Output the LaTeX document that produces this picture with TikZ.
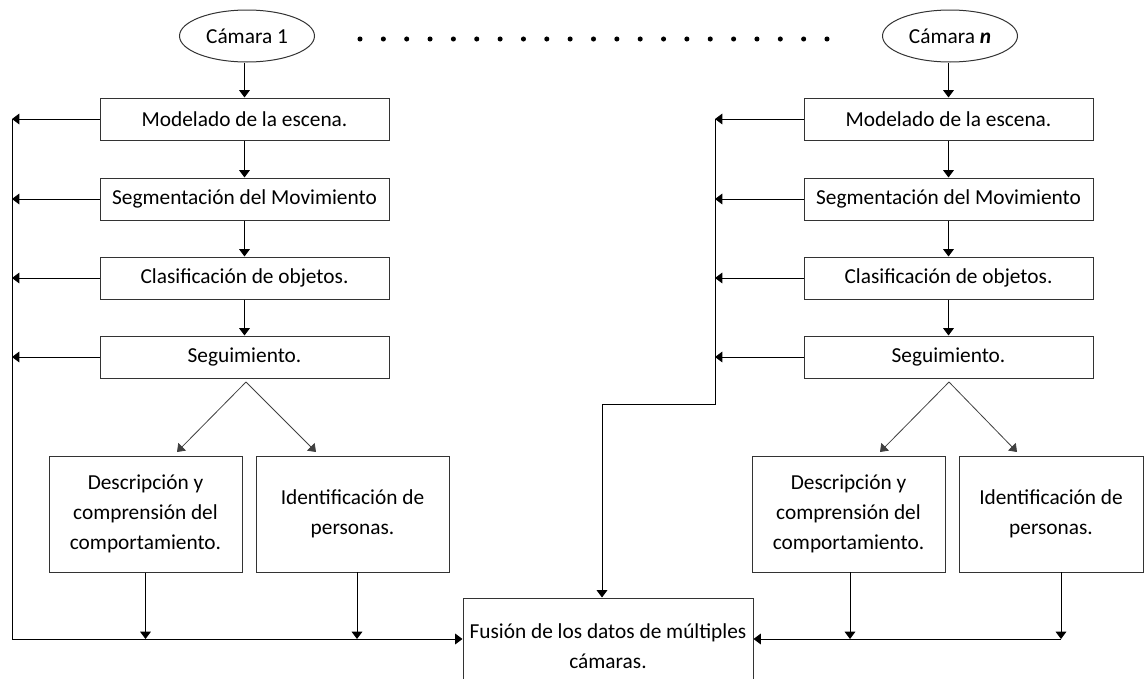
\documentclass[tikz,border=0pt]{standalone}
\usepackage{fontspec}
\setmainfont{Carlito}
\usetikzlibrary{arrows.meta,shapes.geometric}
\begin{document}
\begin{tikzpicture}[x=0.75pt,y=-0.75pt,
  every node/.style={font=\fontsize{16}{22.5}\selectfont, text=black},
  stage/.style={draw=black!80, line width=0.75pt, minimum width=216.75pt, minimum height=31.5pt, inner sep=0pt},
  task/.style={draw=black!80, line width=0.75pt, minimum width=144.75pt, minimum height=87pt, inner sep=0pt, align=center},
  cam/.style={draw=black!80, line width=0.75pt, ellipse, minimum width=101.25pt, minimum height=39pt, inner sep=0pt},
  link/.style={draw=black, line width=0.75pt},
  arr/.style={link, -{Triangle[length=5.5pt,width=8pt]}},
  thin arr/.style={draw=black!75, line width=0.6pt, -{Triangle[length=5.5pt,width=8pt]}}
]
\useasboundingbox (0,0) rectangle (1145,678);

% ---------- camera 1 column ----------
\node[cam]   (c1) at (247,36)    {Cámara 1};
\node[stage] (a1) at (244.5,119) {Modelado de la escena.};
\node[stage] (a2) at (244.5,199) {Segmentación del Movimiento};
\node[stage] (a3) at (244.5,278) {Clasificación de objetos.};
\node[stage] (a4) at (244.5,357) {Seguimiento.};
\node[task]  (a5) at (145.5,514) {Descripción y\\comprensión del\\comportamiento.};
\node[task]  (a6) at (352.5,514) {Identificación de\\personas.};

% ---------- camera n column ----------
\node[cam]   (cn) at (950,36)    {Cámara \textbf{\textit{n}}};
\node[stage] (b1) at (948.5,119) {Modelado de la escena.};
\node[stage] (b2) at (948.5,199) {Segmentación del Movimiento};
\node[stage] (b3) at (948.5,278) {Clasificación de objetos.};
\node[stage] (b4) at (948.5,357) {Seguimiento.};
\node[task]  (b5) at (848.5,514) {Descripción y\\comprensión del\\comportamiento.};
\node[task, minimum width=138pt] (b6) at (1051,514) {Identificación de\\personas.};

% ---------- fusion (lower edge runs past the page) ----------
\node[draw=black!80, line width=0.75pt, minimum width=217.5pt, minimum height=72pt, inner sep=0pt,
      align=center] (fu) at (608,646)
      {Fusión de los datos de múltiples\\cámaras.};

% dotted ellipsis between the cameras
\foreach \i in {0,...,20}
  \fill (360+\i*23.35,39) circle (1.9pt);

% ---------- helper coordinates ----------
\coordinate (L)  at (12,639);
\coordinate (R)  at (715,404);
\coordinate (Rd) at (602,404);
\coordinate (ap) at (246,382);
\coordinate (aL) at (177,452);
\coordinate (aR) at (316,452);
\coordinate (bp) at (949,382);
\coordinate (bL) at (880,452);
\coordinate (bR) at (1017,452);
\coordinate (a6o) at (357,572);
\coordinate (b5o) at (850,572);
\coordinate (b6o) at (1061,572);

% ---------- camera 1 connectors ----------
\draw[arr] (c1.south -| a1.north) -- (a1.north);
\draw[arr] (a1.south) -- (a2.north);
\draw[arr] (a2.south) -- (a3.north);
\draw[arr] (a3.south) -- (a4.north);
\foreach \n in {a1,a2,a3,a4}
  \draw[arr] (\n.west) -- (\n.west -| L);
\draw[link] (a1.west -| L) -- (L);
\draw[arr] (L) -- (L -| fu.west);
\draw[thin arr] (ap) -- (aL);
\draw[thin arr] (ap) -- (aR);
\draw[arr] (a5.south) -- (a5.south |- L);
\draw[arr] (a6o) -- (a6o |- L);

% ---------- camera n connectors ----------
\draw[arr] (cn.south -| b1.north) -- (b1.north);
\draw[arr] (b1.south) -- (b2.north);
\draw[arr] (b2.south) -- (b3.north);
\draw[arr] (b3.south) -- (b4.north);
\foreach \n in {b1,b2,b3,b4}
  \draw[arr] (\n.west) -- (\n.west -| R);
\draw[arr] (b1.west -| R) -- (R) -- (Rd) -- (Rd |- fu.north);
\draw[thin arr] (bp) -- (bL);
\draw[thin arr] (bp) -- (bR);
\draw[arr] (b5o) -- (b5o |- L);
\draw[arr] (b6o) -- (b6o |- L);
\draw[arr] (b6o |- L) -- (L -| fu.east);

\end{tikzpicture}
\end{document}
